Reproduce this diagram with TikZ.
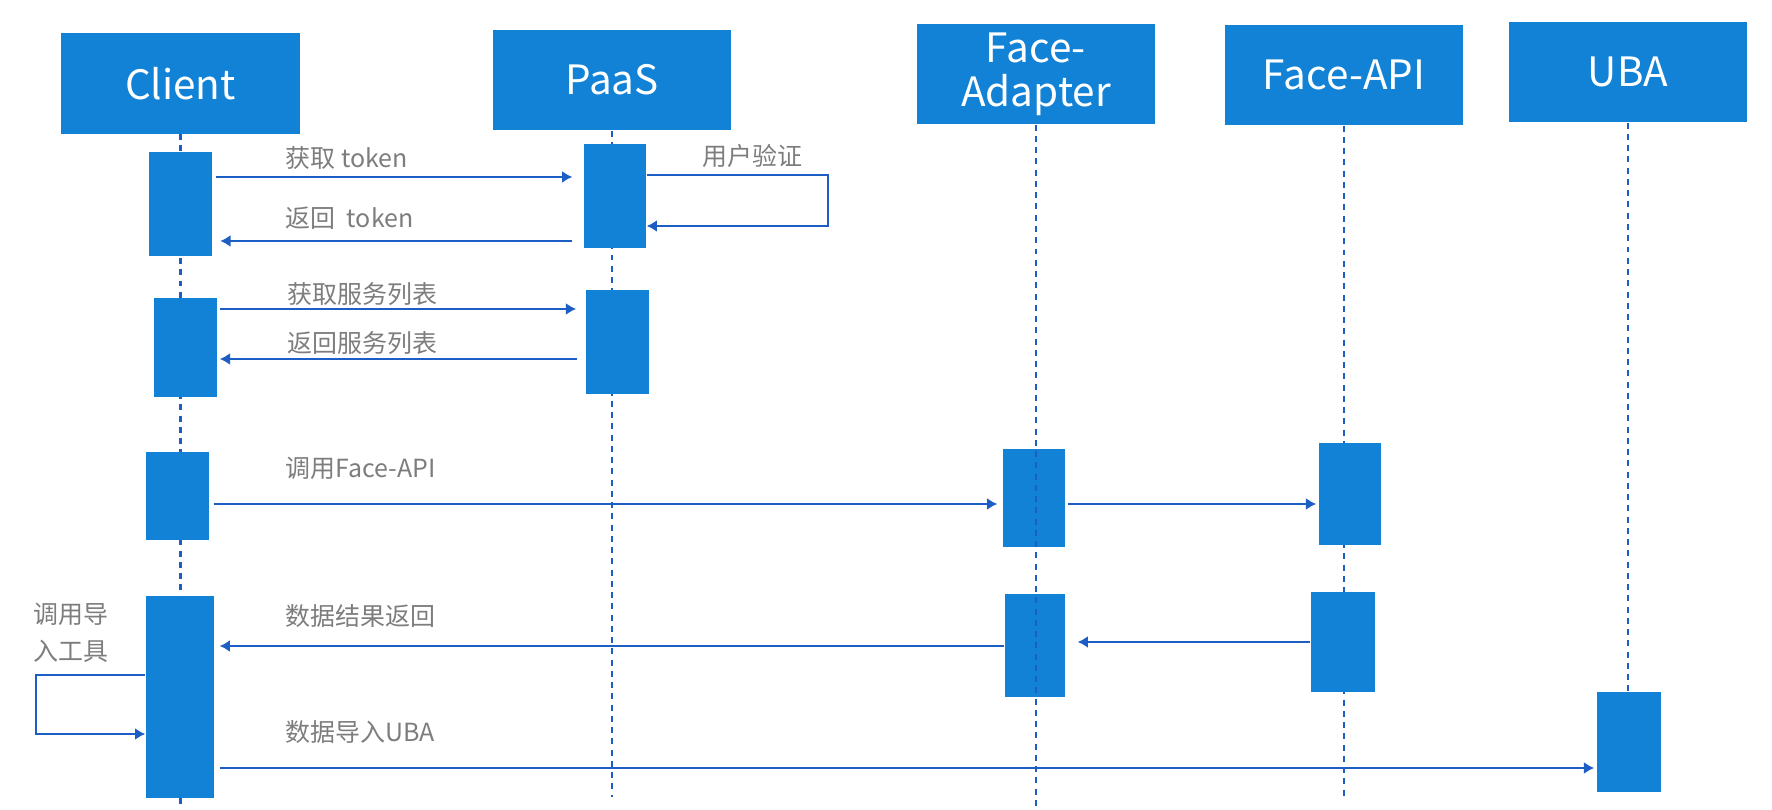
\documentclass[tikz,border=0pt]{standalone}
\usepackage{fontspec}
\setmainfont{Noto Sans CJK SC}
\usetikzlibrary{arrows.meta}
\definecolor{boxblue}{RGB}{18,130,215}
\definecolor{lineblue}{RGB}{28,94,196}
\definecolor{labelgray}{RGB}{125,125,125}
\tikzset{>={Latex[length=2.9pt,width=3.4pt]}}
\tikzstyle{actor} = [rectangle, fill=boxblue, text=white, minimum width=2.38cm, minimum height=1cm, inner sep=0pt, align=center, font=\fontsize{11.5}{12.5}\selectfont]
\tikzstyle{bar} = [rectangle, fill=boxblue, minimum width=0.62cm, inner sep=0pt]
\tikzstyle{lifeline} = [lineblue, line width=0.68pt, dash pattern=on 1.7pt off 1.5pt]
\tikzstyle{arrow} = [lineblue, line width=0.68pt, ->]
\tikzstyle{msg} = [text=labelgray, anchor=west, inner sep=0pt, align=left, font=\fontsize{7.1}{10.5}\selectfont]

\begin{document}
\begin{tikzpicture}[x=0.01cm, y=-0.01cm]
\useasboundingbox (0,0) rectangle (1772,810);

% lanes
\node (client) [actor] at (180.5,83.5) {Client};
\node (paas) [actor] at (612,80) {PaaS};
\node (adapter) [actor] at (1036,74) {Face-\\Adapter};
\node (faceapi) [actor] at (1344,75) {Face-API};
\node (uba) [actor] at (1628,72) {UBA};

\coordinate (foot) at (0,808);
\coordinate (foot2) at (0,797);

\draw [lifeline] (client.south) -- (client.south |- foot);
\draw [lifeline] (paas.south) -- (paas.south |- foot2);
\draw [lifeline] (faceapi.south) -- (faceapi.south |- foot2);

% activations
\node (c1) [bar, minimum height=1.04cm] at (180.5,204) {};
\node (p1) [bar, minimum height=1.04cm] at (615,196) {};
\node (c2) [bar, minimum height=0.99cm, minimum width=0.63cm] at (185.5,347.5) {};
\node (p2) [bar, minimum height=1.04cm, minimum width=0.63cm] at (617.5,342) {};
\node (c3) [bar, minimum height=0.88cm, minimum width=0.63cm] at (177.5,496) {};
\node (c4) [bar, minimum height=2.02cm, minimum width=0.68cm] at (180,697) {};
\node (a1) [bar, minimum height=0.98cm] at (1034,498) {};
\node (f1) [bar, minimum height=1.02cm] at (1350,494) {};
\node (a2) [bar, minimum height=1.03cm, minimum width=0.60cm] at (1035,645.5) {};
\node (f2) [bar, minimum height=1.00cm, minimum width=0.64cm] at (1343,642) {};
\node (u1) [bar, minimum height=1.00cm, minimum width=0.64cm] at (1629,742) {};

\draw [lifeline] (adapter.south) -- (adapter.south |- foot);
\draw [lifeline] (uba.south) -- (uba.south |- u1.north);

% message levels
\coordinate (y1) at (0,177);
\coordinate (y3) at (0,241);
\coordinate (y4) at (0,309);
\coordinate (y5) at (0,359);
\coordinate (y6) at (0,504);
\coordinate (y8) at (0,642);
\coordinate (y9) at (0,646);
\coordinate (y11) at (0,768);
\coordinate (chk1) at (828,175);
\coordinate (chk2) at (828,226);
\coordinate (imp1) at (36,675);
\coordinate (imp2) at (36,734);

\draw [arrow, shorten <=1.1pt, shorten >=3.1pt] (c1.east |- y1) -- (p1.west |- y1);
\draw [arrow] (p1.east |- chk1) -- (chk1) -- (chk2) -- (p1.east |- chk2);
\draw [arrow, shorten <=3.1pt, shorten >=2.3pt] (p1.west |- y3) -- (c1.east |- y3);
\draw [arrow, shorten <=0.6pt, shorten >=2.6pt] (c2.east |- y4) -- (p2.west |- y4);
\draw [arrow, shorten <=2.3pt, shorten >=0.6pt] (p2.west |- y5) -- (c2.east |- y5);
\draw [arrow, shorten <=1.1pt, shorten >=1.4pt] (c3.east |- y6) -- (a1.west |- y6);
\draw [arrow, shorten <=0.6pt, shorten >=0.6pt] (a1.east |- y6) -- (f1.west |- y6);
\draw [arrow, shorten >=3.4pt] (f2.west |- y8) -- (a2.east |- y8);
\draw [arrow, shorten >=1.4pt] (a2.west |- y9) -- (c4.east |- y9);
\draw [arrow] (c4.west |- imp1) -- (imp1) -- (imp2) -- (c4.west |- imp2);
\draw [arrow, shorten <=1.4pt, shorten >=0.6pt] (c4.east |- y11) -- (u1.west |- y11);

% labels
\node (l1) [msg] at (285,158) {获取 token};
\node (l2) [msg] at (702,156) {用户验证};
\node (l3) [msg] at (285,218) {返回\ \ token};
\node (l4) [msg] at (287,294) {获取服务列表};
\node (l5) [msg] at (287,343) {返回服务列表};
\node (l6) [msg] at (285,468) {调用Face-API};
\node (l7) [msg] at (285,616) {数据结果返回};
\node (l8) [msg] at (33,633) {调用导\\入工具};
\node (l9) [msg] at (285,732) {数据导入UBA};

\end{tikzpicture}
\end{document}
